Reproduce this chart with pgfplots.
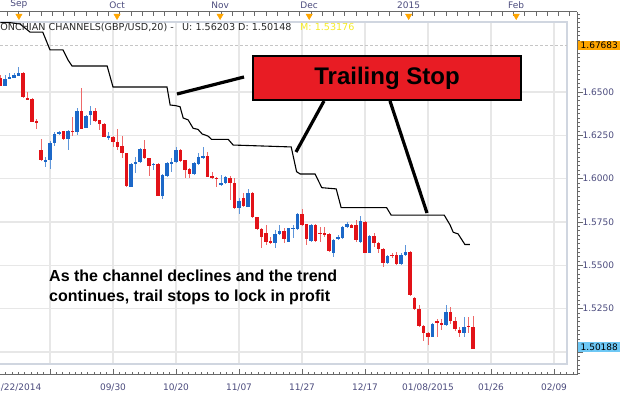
\documentclass[border=0pt]{standalone}
\usepackage{pgfplots}
\pgfplotsset{compat=1.18}
\usepackage{pgfplotstable}
\usepackage{fontspec}
\setmainfont{DejaVu Sans}
\newfontfamily\annot{Liberation Sans}
\definecolor{axtext}{RGB}{75,75,125}
\definecolor{axline}{RGB}{105,105,105}
\definecolor{bred}{RGB}{226,18,24}
\definecolor{bblue}{RGB}{28,104,200}
\definecolor{wred}{RGB}{238,105,105}
\definecolor{wblue}{RGB}{95,150,218}
\definecolor{gridc}{RGB}{231,231,231}
\definecolor{framec}{RGB}{208,214,224}
\definecolor{boxred}{RGB}{232,28,36}
\definecolor{mkorange}{RGB}{255,165,0}
\definecolor{mkblue}{RGB}{110,200,245}
\definecolor{legyellow}{RGB}{245,235,40}
\definecolor{legtext}{RGB}{40,40,40}

\pgfplotstableread{
k o h l c
0 1.6579 1.6598 1.6535 1.6537
5 1.6612 1.6614 1.6467 1.6469
6 1.6467 1.6498 1.6454 1.6456
7 1.6460 1.6464 1.6325 1.6329
8 1.6333 1.6343 1.6285 1.6326
9 1.6166 1.6229 1.6104 1.6108
14 1.6275 1.6277 1.6223 1.6229
16 1.6277 1.6358 1.6246 1.6270
18 1.6391 1.6521 1.6285 1.6287
21 1.6391 1.6406 1.6329 1.6335
22 1.6339 1.6341 1.6281 1.6316
23 1.6316 1.6320 1.6239 1.6243
25 1.6243 1.6246 1.6181 1.6214
26 1.6214 1.6285 1.6166 1.6183
27 1.6189 1.6246 1.6117 1.6146
28 1.6146 1.6150 1.5954 1.5958
32 1.6169 1.6223 1.6112 1.6118
33 1.6118 1.6120 1.6016 1.6073
35 1.6085 1.6089 1.5900 1.5902
40 1.6166 1.6169 1.6098 1.6104
41 1.6108 1.6110 1.6002 1.6050
42 1.6054 1.6060 1.6002 1.6027
46 1.6131 1.6156 1.6008 1.6012
47 1.6016 1.6041 1.6000 1.6002
48 1.6006 1.6012 1.5954 1.5998
51 1.6006 1.6016 1.5877 1.5977
52 1.5977 1.6002 1.5823 1.5829
54 1.5887 1.5916 1.5839 1.5844
56 1.5919 1.5925 1.5775 1.5777
57 1.5777 1.5781 1.5704 1.5708
58 1.5708 1.5714 1.5598 1.5666
59 1.5685 1.5733 1.5617 1.5637
60 1.5641 1.5666 1.5621 1.5627
63 1.5698 1.5714 1.5627 1.5652
67 1.5794 1.5825 1.5729 1.5733
68 1.5737 1.5739 1.5617 1.5652
70 1.5733 1.5737 1.5637 1.5641
71 1.5689 1.5723 1.5637 1.5679
72 1.5685 1.5723 1.5666 1.5675
73 1.5679 1.5685 1.5575 1.5583
78 1.5733 1.5737 1.5714 1.5718
79 1.5733 1.5762 1.5633 1.5645
81 1.5752 1.5754 1.5569 1.5573
83 1.5669 1.5685 1.5608 1.5627
84 1.5627 1.5637 1.5573 1.5592
85 1.5592 1.5598 1.5489 1.5515
87 1.5560 1.5569 1.5541 1.5554
88 1.5560 1.5579 1.5502 1.5508
91 1.5579 1.5583 1.5323 1.5329
92 1.5310 1.5315 1.5242 1.5246
93 1.5246 1.5271 1.5146 1.5150
94 1.5150 1.5156 1.5065 1.5112
95 1.5112 1.5117 1.5040 1.5089
97 1.5175 1.5188 1.5085 1.5169
98 1.5169 1.5188 1.5127 1.5156
100 1.5233 1.5262 1.5162 1.5181
101 1.5181 1.5204 1.5123 1.5131
102 1.5127 1.5146 1.5085 1.5112
104 1.5150 1.5204 1.5112 1.5146
105 1.5146 1.5208 1.5015 1.5019
}\redc

\pgfplotstableread{
k o h l c
1 1.6537 1.6598 1.6533 1.6575
2 1.6575 1.6612 1.6573 1.6589
3 1.6583 1.6612 1.6579 1.6598
4 1.6593 1.6643 1.6591 1.6608
10 1.6098 1.6127 1.6066 1.6106
11 1.6108 1.6218 1.6056 1.6208
12 1.6208 1.6271 1.6189 1.6258
13 1.6258 1.6277 1.6252 1.6267
15 1.6229 1.6281 1.6166 1.6275
17 1.6267 1.6406 1.6252 1.6392
19 1.6294 1.6368 1.6291 1.6364
20 1.6368 1.6421 1.6310 1.6391
24 1.6237 1.6271 1.6223 1.6246
29 1.5954 1.6089 1.5950 1.6085
30 1.6085 1.6127 1.6035 1.6094
31 1.6094 1.6175 1.6089 1.6169
34 1.6079 1.6092 1.6050 1.6085
36 1.5900 1.6025 1.5881 1.6021
37 1.6016 1.6098 1.6012 1.6092
38 1.6089 1.6118 1.6041 1.6093
39 1.6098 1.6185 1.6089 1.6166
43 1.6025 1.6098 1.6021 1.6092
44 1.6085 1.6150 1.6079 1.6127
45 1.6121 1.6185 1.6112 1.6131
49 1.5964 1.6021 1.5958 1.5973
50 1.5973 1.6016 1.5969 1.6012
53 1.5829 1.5887 1.5796 1.5873
55 1.5839 1.5941 1.5835 1.5919
61 1.5627 1.5704 1.5598 1.5681
62 1.5681 1.5733 1.5675 1.5698
64 1.5637 1.5718 1.5633 1.5714
65 1.5710 1.5733 1.5656 1.5718
66 1.5710 1.5800 1.5704 1.5794
69 1.5641 1.5737 1.5637 1.5733
74 1.5570 1.5652 1.5550 1.5646
75 1.5652 1.5675 1.5646 1.5666
76 1.5660 1.5727 1.5652 1.5723
77 1.5723 1.5752 1.5717 1.5737
80 1.5637 1.5785 1.5631 1.5758
82 1.5573 1.5675 1.5569 1.5669
86 1.5515 1.5560 1.5508 1.5554
89 1.5508 1.5569 1.5502 1.5560
90 1.5560 1.5617 1.5554 1.5579
96 1.5089 1.5169 1.5085 1.5162
99 1.5156 1.5271 1.5150 1.5233
103 1.5112 1.5200 1.5085 1.5146
}\bluec

\begin{document}
\begin{tikzpicture}
% ---------- inner plot area ----------
\begin{axis}[
  at={(0pt,32pt)}, anchor=south west, scale only axis,
  width=567pt, height=342pt,
  xmin=-0.111, xmax=125.889, ymin=1.493077, ymax=1.690385,
  axis line style={draw=none}, tick style={draw=none},
  xtick={11,25,...,123}, ytick={1.5,1.525,1.55,1.575,1.6,1.625,1.65},
  xticklabels={}, yticklabels={},
  major tick length=0pt,
  grid=major, grid style={gridc, line width=1.4pt},
  clip=false,
]
\draw[framec, line width=2pt] (rel axis cs:0,0) -- (rel axis cs:1,0) -- (rel axis cs:1,1) -- (rel axis cs:0,1);
\addplot[gray!45, dash pattern=on 3pt off 2pt, line width=0.8pt] coordinates {(-0.111,1.67683) (125.889,1.67683)};
% wicks
\addplot[draw=none, error bars/.cd, y dir=both, y explicit, error mark=none,
  error bar style={draw=wred, line width=0.9pt}]
  table[x=k, y expr={(\thisrow{h}+\thisrow{l})/2}, y error expr={(\thisrow{h}-\thisrow{l})/2}] {\redc};
\addplot[draw=none, error bars/.cd, y dir=both, y explicit, error mark=none,
  error bar style={draw=wblue, line width=0.9pt}]
  table[x=k, y expr={(\thisrow{h}+\thisrow{l})/2}, y error expr={(\thisrow{h}-\thisrow{l})/2}] {\bluec};
% bodies
\addplot[draw=none, error bars/.cd, y dir=both, y explicit, error mark=none,
  error bar style={draw=bred, line width=3.5pt}]
  table[x=k, y expr={(\thisrow{o}+\thisrow{c})/2}, y error expr={max(abs(\thisrow{o}-\thisrow{c})/2,0.0004)}] {\redc};
\addplot[draw=none, error bars/.cd, y dir=both, y explicit, error mark=none,
  error bar style={draw=bblue, line width=3.5pt}]
  table[x=k, y expr={(\thisrow{o}+\thisrow{c})/2}, y error expr={max(abs(\thisrow{o}-\thisrow{c})/2,0.0004)}] {\bluec};
% Donchian upper band
\addplot[black, line width=1.1pt] coordinates {
(0,1.6900) (2.1,1.6900) (4.3,1.6893) (6.6,1.6845) (9.4,1.6845) (11.0,1.6743) (13.9,1.6743)
(15.0,1.6685) (15.9,1.6650) (23.7,1.6650) (25.0,1.6529) (37.0,1.6529) (37.7,1.6425)
(39.0,1.6421) (39.9,1.6415) (40.6,1.6350) (41.7,1.6339) (42.8,1.6291) (43.9,1.6284)
(44.8,1.6258) (46.1,1.6246) (46.9,1.6227) (50.6,1.6227) (51.7,1.6194) (64.6,1.6183)
(65.8,1.6040) (66.6,1.6027) (69.9,1.6027) (71.4,1.5948) (74.6,1.5941) (75.7,1.5833)
(85.8,1.5833) (86.8,1.5790) (98.6,1.5790) (99.9,1.5733) (100.6,1.5691) (101.7,1.5681)
(103.2,1.5620) (104.3,1.5620)};
\end{axis}
% ---------- bottom and right axes ----------
\begin{axis}[
  at={(0pt,21pt)}, anchor=south west, scale only axis,
  width=577pt, height=363pt,
  xmin=-0.111, xmax=128.111, ymin=1.486731, ymax=1.696154,
  axis x line*=bottom, axis y line*=right,
  axis line style={axline, line width=1pt, -},
  tick style={axline, line width=0.8pt},
  xtick align=inside, ytick align=outside,
  major tick length=6pt, minor tick length=3pt,
  xtick={11,25,...,123},
  xticklabels={,09/30,10/20,11/07,11/27,12/17,01/08/2015,01/26,02/09},
  minor xtick={1.2,2.6,...,127.2},
  extra x ticks={3.3}, extra x tick labels={08/22/2014},
  extra x tick style={major tick length=0pt},
  ytick={1.5,1.525,1.55,1.575,1.6,1.625,1.65,1.675},
  yticklabels={,1.5250,1.5500,1.5750,1.6000,1.6250,1.6500,},
  minor ytick={1.4875,1.49,...,1.695},
  tick label style={font=\fontsize{9}{11}\selectfont, text=axtext},
  xticklabel style={yshift=-5pt},
  yticklabel style={xshift=-4pt},
  clip=false,
]
\addplot[draw=none] coordinates {(0,1.55)};
\end{axis}
% ---------- top axis ----------
\begin{axis}[
  at={(0pt,21pt)}, anchor=south west, scale only axis,
  width=577pt, height=363pt,
  xmin=-0.111, xmax=128.111, ymin=1.486731, ymax=1.696154,
  axis x line*=top, axis y line=none,
  axis line style={axline, line width=1pt, -},
  tick style={axline, line width=0.8pt},
  xtick align=inside,
  major tick length=0pt, minor tick length=4pt,
  xtick={4.1,25.9,48.8,68.6,90.7,114.6},
  xticklabels={Sep,Oct,Nov,Dec,2015,Feb},
  minor xtick={1.5,4,...,126.5},
  tick label style={font=\fontsize{9}{11}\selectfont, text=axtext},
  clip=false,
]
\addplot[only marks, mark=triangle*, mark size=3.6pt,
  mark options={rotate=180, fill=mkorange, draw=mkorange}]
  coordinates {(4.1,1.69385) (25.9,1.69385) (48.8,1.69385) (68.6,1.69385) (90.7,1.69385) (114.6,1.69385)};
\end{axis}
% ---------- annotations (pixel coordinates) ----------
\begin{scope}[shift={(0pt,396pt)}, x=1pt, y=-1pt]
\node[anchor=east, inner sep=0pt, text=legtext, font=\fontsize{9.6}{11}\selectfont] at (174,27) {DONCHIAN CHANNELS(GBP/USD,20) -};
\node[anchor=west, inner sep=0pt, text=legtext, font=\fontsize{9.6}{11}\selectfont] at (182,27) {U: 1.56203};
\node[anchor=west, inner sep=0pt, text=legtext, font=\fontsize{9.6}{11}\selectfont] at (238,27) {D: 1.50148};
\node[anchor=west, inner sep=0pt, text=legyellow, font=\fontsize{9.6}{11}\selectfont] at (300,27) {M: 1.53176};
\node[fill=mkorange, anchor=west, inner xsep=2.5pt, inner ysep=1.5pt, text=black, font=\fontsize{9}{11}\selectfont] at (578,45.5) {1.67683};
\node[fill=mkblue, anchor=west, inner xsep=2.5pt, inner ysep=1.5pt, text=black, font=\fontsize{9}{11}\selectfont] at (578,347) {1.50188};
\draw[line width=3.2pt] (177,94) -- (244,77);
\draw[line width=3.2pt] (296,152) -- (324,101);
\draw[line width=3.2pt] (427,213) -- (390,101);
\draw[fill=boxred, draw=black, line width=2.6pt] (253,56) rectangle (521,100);
\node[font=\annot\bfseries\fontsize{24}{27}\selectfont] at (387,78) {Trailing Stop};
\node[anchor=west, align=left, inner sep=0pt, font=\annot\bfseries\fontsize{16}{20}\selectfont] at (49,287) {As the channel declines and the trend\\continues, trail stops to lock in profit};
\end{scope}
\pgfresetboundingbox
\path[use as bounding box] (0,0) rectangle (624pt,396pt);
\end{tikzpicture}
\end{document}
